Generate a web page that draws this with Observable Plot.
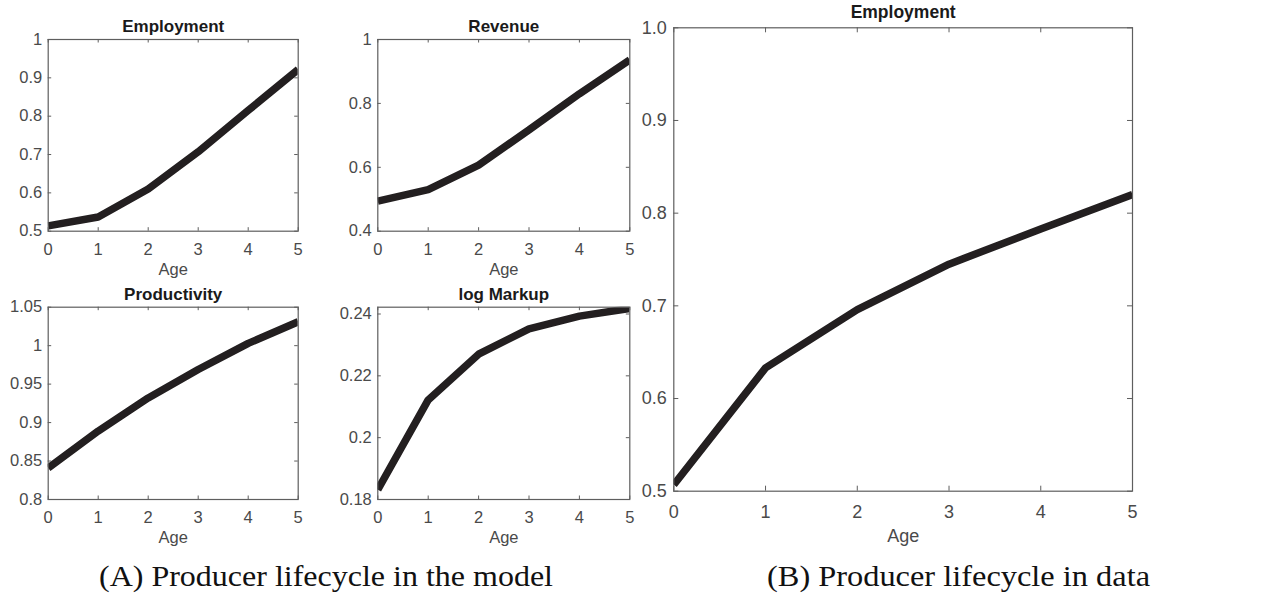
<!DOCTYPE html>
<html>
<head>
<meta charset="utf-8">
<script src="https://cdn.jsdelivr.net/npm/d3@7"></script>
<script src="https://cdn.jsdelivr.net/npm/@observablehq/plot@0.6"></script>
<style>
  html, body { margin: 0; padding: 0; background: #fff; }
  #page { position: relative; width: 1275px; height: 596px; overflow: hidden; background: #fff; }
  .pan { position: absolute; }
  .pan svg { overflow: visible; }
</style>
</head>
<body>
<div id="page"></div>
<script>
// ---- data ----
const ages = [0, 1, 2, 3, 4, 5];
const modelEmployment   = [0.514, 0.537, 0.610, 0.707, 0.815, 0.922];
const modelRevenue      = [0.494, 0.530, 0.607, 0.717, 0.830, 0.936];
const modelProductivity = [0.841, 0.889, 0.932, 0.969, 1.003, 1.031];
const modelLogMarkup    = [0.1832, 0.2122, 0.2270, 0.2352, 0.2393, 0.2418];
const dataEmployment    = [0.507, 0.633, 0.696, 0.745, 0.783, 0.820];

const ticksEmployment   = [0.5, 0.6, 0.7, 0.8, 0.9, 1];
const ticksRevenue      = [0.4, 0.6, 0.8, 1];
const ticksProductivity = [0.8, 0.85, 0.9, 0.95, 1, 1.05];
const ticksLogMarkup    = [0.18, 0.2, 0.22, 0.24];
const ticksDataEmp      = [0.5, 0.6, 0.7, 0.8, 0.9, 1.0];

const titles = ["Employment", "Revenue", "Productivity", "log Markup", "Employment"];
const xLabel = "Age";
const captions = ["(A) Producer lifecycle in the model", "(B) Producer lifecycle in data"];

// ---- styling ----
const axisColor = "#5e5e5e";
const textColor = "#4a4a4a";
const lineColor = "#231f20";
const font = "'Liberation Sans', Arial, Helvetica, sans-serif";

function panel(o) {
  const rows = ages.map((a, i) => ({age: a, v: o.values[i]}));
  const boxW = o.boxW, boxH = o.boxH;
  const chart = Plot.plot({
    width: o.width, height: o.height,
    marginLeft: o.mL, marginTop: o.mT,
    marginRight: o.width - o.mL - boxW,
    marginBottom: o.height - o.mT - boxH,
    x: {domain: [0, 5]},
    y: {domain: o.yDomain},
    style: {background: "transparent", fontFamily: font, overflow: "visible"},
    marks: [
      Plot.line(rows, {x: "age", y: "v", stroke: lineColor, strokeWidth: o.lw, clip: true, strokeLinejoin: "miter", strokeLinecap: "butt"}),
      Plot.frame({stroke: axisColor, strokeWidth: 1.2}),
      Plot.tickX(ages, {x: d => d, insetTop: boxH - o.tl, stroke: axisColor}),
      Plot.tickX(ages, {x: d => d, insetBottom: boxH - o.tl, stroke: axisColor}),
      Plot.tickY(o.yTicks, {y: d => d, insetRight: boxW - o.tl, stroke: axisColor}),
      Plot.tickY(o.yTicks, {y: d => d, insetLeft: boxW - o.tl, stroke: axisColor}),
      Plot.axisX({ticks: ages, tickSize: 0, tickPadding: o.xPad, label: null, fontSize: o.fs, fill: textColor, tickFormat: d => String(d)}),
      Plot.axisY({ticks: o.yTicks, tickSize: 0, tickPadding: o.yPad, label: null, fontSize: o.fs, fill: textColor, tickFormat: o.yFmt}),
      Plot.text([o.title], {frameAnchor: "top", dy: o.titleDy, lineAnchor: "middle", fontWeight: "bold", fontSize: o.tfs, fill: "#1a1a1a"}),
      Plot.text([xLabel], {frameAnchor: "bottom", dy: o.ageDy, lineAnchor: "top", fontSize: o.fs, fill: textColor})
    ]
  });
  const div = document.createElement("div");
  div.className = "pan";
  div.style.left = o.left + "px";
  div.style.top = o.top + "px";
  div.style.width = o.width + "px";
  div.style.height = o.height + "px";
  div.appendChild(chart);
  document.getElementById("page").appendChild(div);
}

const small = {fs: 16.5, tfs: 17, lw: 7.5, tl: 3.5, xPad: 12, yPad: 6, titleDy: -13, ageDy: 32};
const str = d => String(d);

panel({...small, values: modelEmployment, yDomain: [0.5, 1], yTicks: ticksEmployment, yFmt: str, title: titles[0],
  left: 0, top: 0, width: 315, height: 280, mL: 47.7, mT: 39, boxW: 250, boxH: 191.7});
panel({...small, values: modelRevenue, yDomain: [0.4, 1], yTicks: ticksRevenue, yFmt: str, title: titles[1],
  left: 320, top: 0, width: 320, height: 280, mL: 57.3, mT: 39, boxW: 252, boxH: 191.7});
panel({...small, values: modelProductivity, yDomain: [0.8, 1.05], yTicks: ticksProductivity, yFmt: str, title: titles[2],
  left: 0, top: 260, width: 315, height: 290, mL: 47.7, mT: 46.7, boxW: 250, boxH: 192.3});
panel({...small, values: modelLogMarkup, yDomain: [0.18, 0.2422], yTicks: ticksLogMarkup, yFmt: str, title: titles[3],
  left: 320, top: 260, width: 320, height: 290, mL: 57.3, mT: 46.7, boxW: 252, boxH: 192.3});
panel({fs: 18, tfs: 17.5, lw: 7.5, tl: 5, xPad: 14, yPad: 7, titleDy: -15, ageDy: 38,
  values: dataEmployment, yDomain: [0.5, 1.0], yTicks: ticksDataEmp, yFmt: d3.format(".1f"), title: titles[4],
  left: 620, top: 0, width: 655, height: 596, mL: 53.3, mT: 27.3, boxW: 458.7, boxH: 463.4});

// ---- captions ----
const ns = "http://www.w3.org/2000/svg";
const cap = document.createElementNS(ns, "svg");
cap.setAttribute("width", 1275);
cap.setAttribute("height", 596);
cap.style.position = "absolute";
cap.style.left = "0px";
cap.style.top = "0px";
cap.style.pointerEvents = "none";
const capSpecs = [{x: 99, len: 454}, {x: 767, len: 383}];
captions.forEach((c, i) => {
  const t = document.createElementNS(ns, "text");
  t.setAttribute("x", capSpecs[i].x);
  t.setAttribute("y", 586);
  t.setAttribute("font-family", "'Liberation Serif', 'Times New Roman', serif");
  t.setAttribute("font-size", 30);
  t.setAttribute("fill", "#111");
  t.setAttribute("textLength", capSpecs[i].len);
  t.setAttribute("lengthAdjust", "spacingAndGlyphs");
  t.textContent = c;
  cap.appendChild(t);
});
document.getElementById("page").appendChild(cap);
</script>
</body>
</html>
